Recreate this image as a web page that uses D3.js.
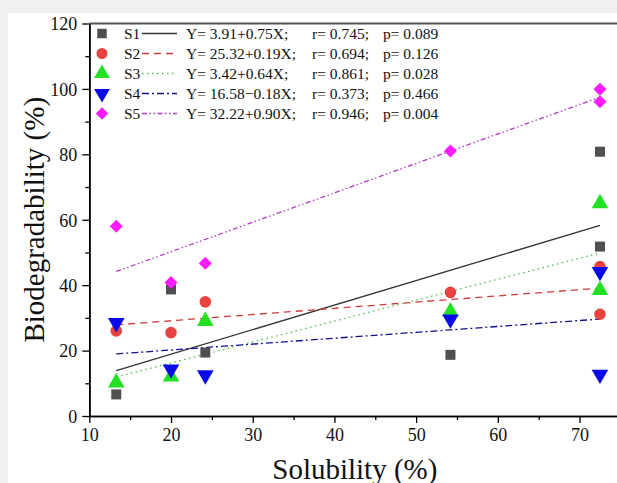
<!DOCTYPE html>
<html><head><meta charset="utf-8">
<script src="https://cdn.jsdelivr.net/npm/d3@7"></script>
<style>body{margin:0;background:#f0f0f0;} svg{display:block;}</style>
</head><body>
<svg id="c" width="617" height="483"></svg>
<script>
const xValues = [13.3, 20.0, 24.2, 54.2, 72.5, 72.5];
const seriesNames = ["S1", "S2", "S3", "S4", "S5"];
const S1 = [6.6, 38.7, 19.4, 18.7, 80.8, 51.8];
const S2 = [26.0, 25.5, 34.9, 37.8, 45.7, 31.1];
const S3 = [10.2, 12.0, 29.0, 31.9, 65.0, 38.5];
const S4 = [28.5, 14.3, 12.5, 29.6, 44.1, 12.7];
const S5 = [58.0, 40.8, 46.7, 81.0, 99.9, 96.1];
const intercepts = [3.91, 25.32, 3.42, 16.58, 32.22];
const slopes = [0.75, 0.19, 0.64, 0.18, 0.90];
const equations = ["Y= 3.91+0.75X;", "Y= 25.32+0.19X;", "Y= 3.42+0.64X;", "Y= 16.58\u22120.18X;", "Y= 32.22+0.90X;"];
const rValues = ["r= 0.745;", "r= 0.694;", "r= 0.861;", "r= 0.373;", "r= 0.946;"];
const pValues = ["p= 0.089", "p= 0.126", "p= 0.028", "p= 0.466", "p= 0.004"];
const xTicks = [10, 20, 30, 40, 50, 60, 70];
const xMinor = [15, 25, 35, 45, 55, 65, 75];
const yTicks = [0, 20, 40, 60, 80, 100, 120];
const yMinor = [10, 30, 50, 70, 90, 110];
const fitRange = [13.3, 72.5];

const allSeries = [S1, S2, S3, S4, S5];
const markerColors = ["#4f4f4f", "#e8433f", "#22e022", "#0a0ae8", "#ff1aff"];
const lineColors = ["#333333", "#cc3a3a", "#4cbf4c", "#10108f", "#b33cc4"];
const dashes = [null, "7,5", "1.5,3.5", "7,3,2,3", "5,2.5,1.5,2.5,1.5,2.5"];
const symbols = [d3.symbolSquare, d3.symbolCircle, d3.symbolTriangle, d3.symbolTriangle, d3.symbolSquare];
const symSizes = [100, 105, 120, 120, 85];
const rotations = [0, 0, 0, 180, 45];

const svg = d3.select("#c");
svg.append("rect").attr("x", 8).attr("y", 13).attr("width", 609).attr("height", 470).attr("fill", "#fff");

const x = d3.scaleLinear().domain([10, 75]).range([89.3, 620.4]);
const y = d3.scaleLinear().domain([0, 120]).range([416, 23.5]);
const font = "'Liberation Serif','Times New Roman',serif";

// top frame line
svg.append("line").attr("x1", x(10)).attr("x2", 617).attr("y1", y(120)).attr("y2", y(120))
  .attr("stroke", "#555").attr("stroke-width", 2);

// axes
const gx = svg.append("g").attr("transform", `translate(0,${y(0)})`)
  .call(d3.axisBottom(x).tickValues(xTicks).tickSize(7).tickSizeOuter(0).tickFormat(d3.format("d")));
const gxm = svg.append("g").attr("transform", `translate(0,${y(0)})`)
  .call(d3.axisBottom(x).tickValues(xMinor).tickSize(4).tickSizeOuter(0).tickFormat(""));
const gy = svg.append("g").attr("transform", `translate(${x(10)},0)`)
  .call(d3.axisLeft(y).tickValues(yTicks).tickSize(7).tickSizeOuter(0).tickFormat(d3.format("d")));
const gym = svg.append("g").attr("transform", `translate(${x(10)},0)`)
  .call(d3.axisLeft(y).tickValues(yMinor).tickSize(4).tickSizeOuter(0).tickFormat(""));
[gx, gxm, gy, gym].forEach(g => {
  g.select(".domain").attr("stroke", "#000").attr("stroke-width", 1.6);
  g.selectAll(".tick line").attr("stroke", "#000").attr("stroke-width", 1.3);
  g.selectAll("text").attr("font-family", font).attr("font-size", 18).attr("fill", "#111");
});
gx.selectAll("text").attr("dy", 0).attr("y", 25);
gy.selectAll("text").attr("x", -12).attr("dy", "0.35em");

// axis titles
svg.append("text").attr("x", x(42.5)).attr("y", 479).attr("text-anchor", "middle")
  .attr("font-family", font).attr("font-size", 29).attr("fill", "#111").text("Solubility (%)");
svg.append("text").attr("transform", `translate(44,${(y(0) + y(120)) / 2}) rotate(-90)`)
  .attr("text-anchor", "middle").attr("font-family", font).attr("font-size", 29).attr("fill", "#111")
  .text("Biodegradability (%)");

// fit lines
allSeries.forEach((s, i) => {
  svg.append("line")
    .attr("x1", x(fitRange[0])).attr("y1", y(intercepts[i] + slopes[i] * fitRange[0]))
    .attr("x2", x(fitRange[1])).attr("y2", y(intercepts[i] + slopes[i] * fitRange[1]))
    .attr("stroke", lineColors[i]).attr("stroke-width", 1.3)
    .attr("stroke-dasharray", dashes[i]);
});

// points
allSeries.forEach((s, i) => {
  const sym = d3.symbol().type(symbols[i]).size(symSizes[i]);
  svg.append("g").selectAll("path").data(s).join("path")
    .attr("d", sym)
    .attr("transform", (d, j) => `translate(${x(xValues[j])},${y(d)}) rotate(${rotations[i]})`)
    .attr("fill", markerColors[i]);
});

// legend
const lg = svg.append("g").attr("font-family", font).attr("font-size", 15.5).attr("fill", "#111");
seriesNames.forEach((n, i) => {
  const ry = 33.5 + i * 20;
  lg.append("path").attr("d", d3.symbol().type(symbols[i]).size(symSizes[i] * 0.9))
    .attr("transform", `translate(102,${ry}) rotate(${rotations[i]})`).attr("fill", markerColors[i]);
  lg.append("text").attr("x", 124).attr("y", ry + 5).text(n);
  lg.append("line").attr("x1", 142).attr("x2", 177).attr("y1", ry).attr("y2", ry)
    .attr("stroke", lineColors[i]).attr("stroke-width", 1.3).attr("stroke-dasharray", dashes[i]);
  lg.append("text").attr("x", 186).attr("y", ry + 5).text(equations[i]);
  lg.append("text").attr("x", 312).attr("y", ry + 5).text(rValues[i]);
  lg.append("text").attr("x", 383).attr("y", ry + 5).text(pValues[i]);
});
</script>
</body></html>
